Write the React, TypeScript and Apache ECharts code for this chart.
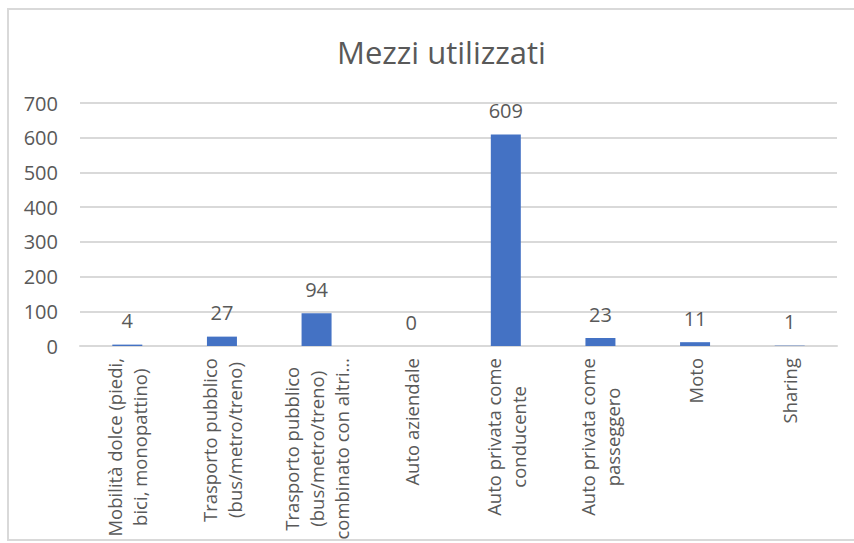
import React, { useEffect, useRef } from "react";
import * as echarts from "echarts";

const title = "Mezzi utilizzati";
const categories = [
  "Mobilità dolce (piedi,\nbici, monopattino)",
  "Trasporto pubblico\n(bus/metro/treno)",
  "Trasporto pubblico\n(bus/metro/treno)\ncombinato con altri…",
  "Auto aziendale",
  "Auto privata come\nconducente",
  "Auto privata come\npasseggero",
  "Moto",
  "Sharing",
];
const values = [4, 27, 94, 0, 609, 23, 11, 1];
const yMin = 0;
const yMax = 700;
const yInterval = 100;

const FONT = "'Open Sans', 'Noto Sans', sans-serif";
const TEXT = "#595959";
const GRID = "#d9d9d9";
const BAR = "#4472C4";

export default function App() {
  const ref = useRef<HTMLDivElement>(null);
  useEffect(() => {
    document.body.style.margin = "0";
    if (!ref.current) return;
    const chart = echarts.init(ref.current, null, { renderer: "svg" });
    chart.setOption({
      animation: false,
      backgroundColor: "#ffffff",
      textStyle: { fontFamily: FONT },
      title: {
        text: title,
        left: 332,
        top: 31,
        textStyle: { fontFamily: FONT, fontSize: 31, fontWeight: "normal", color: TEXT },
      },
      graphic: [
        {
          type: "rect",
          shape: { x: 8, y: 9, width: 900, height: 531 },
          style: { fill: "none", stroke: GRID, lineWidth: 2 },
          silent: true,
        },
      ],
      grid: {
        left: 80,
        right: 17,
        top: 103,
        bottom: 197,
        containLabel: false,
        outerBoundsMode: "none",
      },
      xAxis: {
        type: "category",
        data: categories,
        axisLine: { show: true, lineStyle: { color: GRID, width: 2 } },
        axisTick: { show: false },
        axisLabel: {
          interval: 0,
          rotate: 90,
          margin: 12,
          formatter: (v: string) => v.split("\n").map((l) => `{a|${l}}`).join("\n"),
          rich: {
            a: { align: "center", fontSize: 18.5, lineHeight: 25, color: TEXT, fontFamily: FONT },
          },
          color: TEXT,
        },
      },
      yAxis: {
        type: "value",
        min: yMin,
        max: yMax,
        interval: yInterval,
        axisLine: { show: false },
        axisTick: { show: false },
        splitLine: { show: true, lineStyle: { color: GRID, width: 2 } },
        axisLabel: { color: TEXT, fontSize: 20, margin: 22, fontFamily: FONT },
      },
      series: [
        {
          type: "bar",
          data: values,
          barWidth: 30,
          itemStyle: { color: BAR },
          label: {
            show: true,
            position: "top",
            distance: 14,
            color: TEXT,
            fontSize: 20,
            fontFamily: FONT,
          },
        },
      ],
    });
    return () => chart.dispose();
  }, []);
  return <div ref={ref} style={{ width: 854, height: 543 }} />;
}
